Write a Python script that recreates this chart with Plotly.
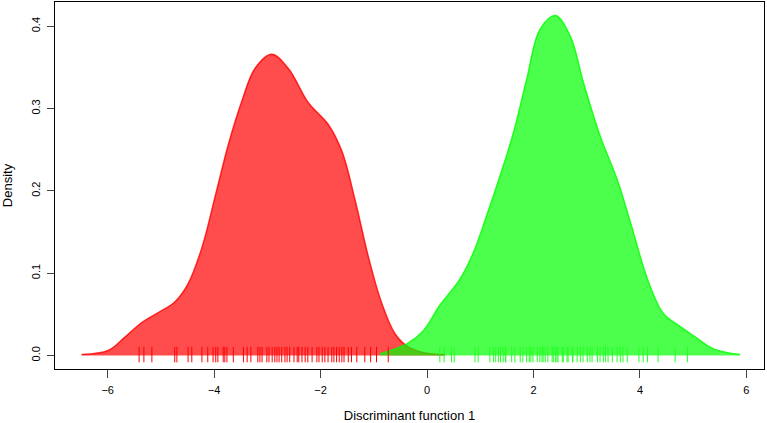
import plotly.graph_objects as go

# density curves
red_x = [-6.49, -5.99, -5.68, -5.36, -5.05, -4.74, -4.49, -4.23, -3.97, -3.73, -3.48,
         -3.23, -2.92, -2.61, -2.23, -1.86, -1.60, -1.35, -1.10, -0.85, -0.60, -0.35,
         -0.04, 0.34]
red_d = [0.001, 0.006, 0.022, 0.040, 0.052, 0.065, 0.087, 0.131, 0.196, 0.257, 0.309,
         0.349, 0.366, 0.349, 0.307, 0.281, 0.248, 0.188, 0.119, 0.063, 0.026, 0.010,
         0.003, 0.001]

green_x = [-0.88, -0.38, -0.07, 0.24, 0.62, 0.87, 1.12, 1.37, 1.62, 1.87, 2.12, 2.41,
           2.69, 2.94, 3.25, 3.57, 3.82, 4.14, 4.44, 4.76, 5.07, 5.38, 5.88]
green_d = [0.002, 0.014, 0.030, 0.061, 0.093, 0.125, 0.170, 0.218, 0.270, 0.335, 0.396,
           0.413, 0.388, 0.331, 0.267, 0.214, 0.162, 0.093, 0.051, 0.035, 0.021, 0.008,
           0.001]

# rug positions (group 1 = red, group 2 = green)
red_rug = [-5.41, -5.32, -5.17, -4.74, -4.70, -4.49, -4.42, -4.23, -4.12, -4.02, -3.97,
           -3.93, -3.83, -3.80, -3.76, -3.64, -3.45, -3.38, -3.31, -3.18, -3.14, -3.10,
           -3.01, -2.97, -2.91, -2.86, -2.82, -2.78, -2.73, -2.67, -2.63, -2.58, -2.50,
           -2.44, -2.41, -2.35, -2.29, -2.24, -2.16, -2.07, -2.03, -1.97, -1.92, -1.86,
           -1.79, -1.75, -1.70, -1.65, -1.60, -1.56, -1.48, -1.42, -1.32, -1.17, -1.06,
           -0.95, -0.73]
green_rug = [0.24, 0.32, 0.46, 0.51, 0.90, 0.96, 1.18, 1.25, 1.29, 1.34, 1.38, 1.43,
             1.47, 1.48, 1.59, 1.65, 1.75, 1.80, 1.87, 1.92, 1.95, 1.99, 2.07, 2.12,
             2.16, 2.18, 2.22, 2.27, 2.35, 2.37, 2.41, 2.44, 2.46, 2.54, 2.56, 2.63,
             2.65, 2.73, 2.74, 2.82, 2.88, 2.93, 3.01, 3.06, 3.10, 3.20, 3.25, 3.31,
             3.35, 3.40, 3.48, 3.57, 3.63, 3.68, 3.76, 3.98, 4.06, 4.14, 4.34, 4.66,
             4.89]

x_ticks = [-6, -4, -2, 0, 2, 4, 6]
y_ticks = [0.0, 0.1, 0.2, 0.3, 0.4]

fig = go.Figure()
fig.add_trace(go.Scatter(x=red_x, y=red_d, mode="lines", fill="tozeroy",
                         line=dict(color="rgba(255,0,0,0.8)", width=1.5, shape="spline"),
                         fillcolor="rgba(255,0,0,0.7)"))
fig.add_trace(go.Scatter(x=green_x, y=green_d, mode="lines", fill="tozeroy",
                         line=dict(color="rgba(0,255,0,0.8)", width=1.5, shape="spline"),
                         fillcolor="rgba(0,255,0,0.7)"))
fig.add_trace(go.Scatter(x=red_rug, y=[0.001] * len(red_rug), mode="markers",
                         marker=dict(symbol="line-ns", size=11,
                                     line=dict(color="red", width=1))))
fig.add_trace(go.Scatter(x=green_rug, y=[0.001] * len(green_rug), mode="markers",
                         marker=dict(symbol="line-ns", size=11,
                                     line=dict(color="#22ff22", width=1))))

fig.update_layout(
    width=767, height=423,
    margin=dict(l=55, r=3, t=2, b=54, autoexpand=False),
    plot_bgcolor="white", paper_bgcolor="white",
    showlegend=False,
    font=dict(family="Liberation Sans", size=11, color="black"),
)
fig.update_xaxes(range=[-6.99, 6.33], tickvals=x_ticks, ticks="outside", ticklen=8,
                 ticklabelstandoff=3, tickfont=dict(size=11),
                 showgrid=False, zeroline=False, showline=True, linecolor="black",
                 linewidth=1, mirror=True, automargin=False,
                 title=dict(text="Discriminant function 1", standoff=19))
fig.update_yaxes(range=[-0.0165, 0.4295], tickvals=y_ticks, tickformat=".1f",
                 ticks="outside", ticklen=7, tickangle=-90,
                 ticklabelstandoff=3, tickfont=dict(size=11),
                 showgrid=False, zeroline=False, showline=True, linecolor="black",
                 linewidth=1, mirror=True, automargin=False,
                 title=dict(text="Density", standoff=18))

fig.write_html("out.html", config={"displayModeBar": False},
               post_script="document.body.style.margin='0';")
